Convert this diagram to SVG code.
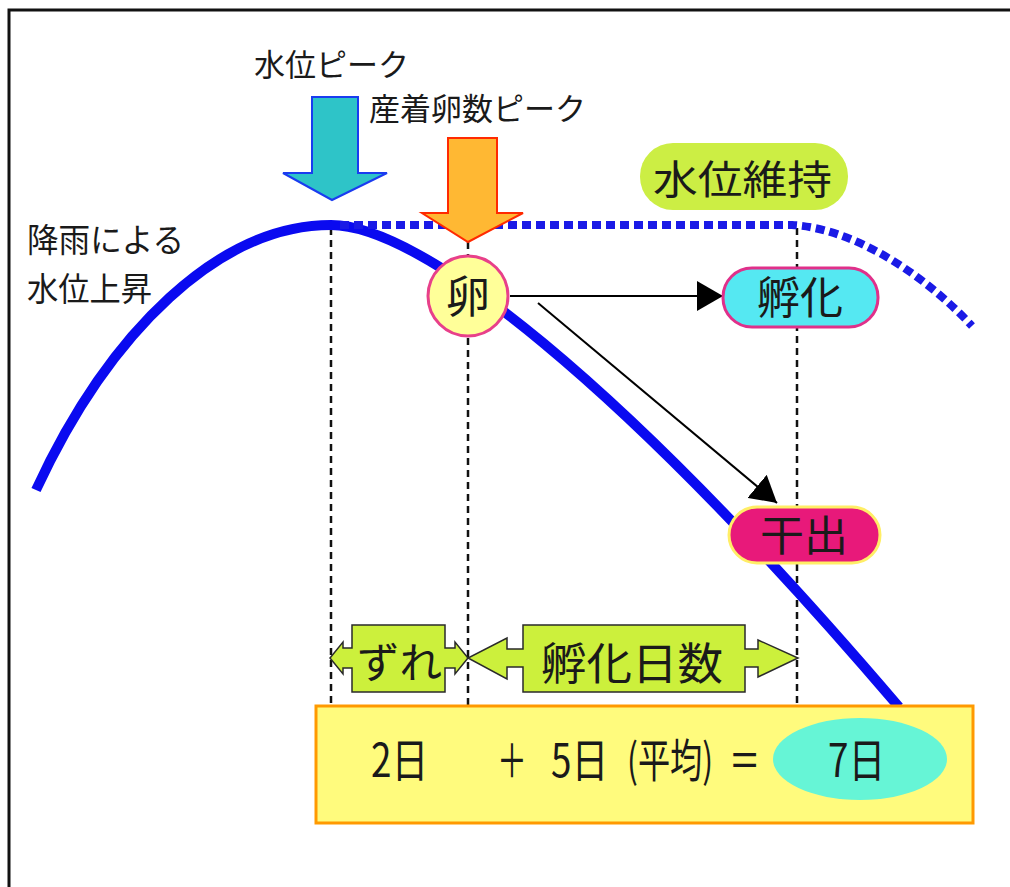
<svg xmlns="http://www.w3.org/2000/svg" width="1010" height="887" viewBox="0 0 1010 887">
<defs>
<style>
text{font-family:"Noto Sans CJK JP","Noto Sans",sans-serif;fill:#1a1a1a}
.vd{stroke:#111;stroke-width:2.5;stroke-dasharray:7 5;fill:none}
.conn{stroke:#000;stroke-width:2;fill:none}
.dbl{fill:#ccf03c;stroke:#2a2a2a;stroke-width:1.5}
.sum{font-size:46px}
</style>
<marker id="ah" viewBox="0 0 26 30" refX="26" refY="15" markerWidth="26" markerHeight="30" markerUnits="userSpaceOnUse" orient="auto">
<path d="M0,0 L26,15 L0,30 Z" fill="#000"/>
</marker>
</defs>
<rect width="1010" height="887" fill="#fff"/>
<path d="M9,887 L9,10 L1010,10" fill="none" stroke="#111" stroke-width="3"/>

<g id="guides">
<line class="vd" x1="331" y1="228" x2="331" y2="707"/>
<line class="vd" x1="468" y1="242" x2="468" y2="707"/>
<line class="vd" x1="797" y1="228" x2="797" y2="707"/>
</g>

<g id="water-curve">
<path d="M36,490 C110,330 220,225 331,225 C420,225 620,380 899,707" fill="none" stroke="#0a0af0" stroke-width="10"/>
<path d="M340,225 L792,225 C850,228 920,270 972,326" fill="none" stroke="#1a1ae6" stroke-width="8" stroke-dasharray="9 5"/>
</g>

<g id="label-rain">
<text x="27" y="252" font-size="33" textLength="157" lengthAdjust="spacingAndGlyphs">降雨による</text>
<text x="27" y="301" font-size="33" textLength="125" lengthAdjust="spacingAndGlyphs">水位上昇</text>
</g>

<g id="water-peak">
<text x="254" y="76" font-size="31">水位ピーク</text>
<path d="M312,97 L358,97 L358,173 L387,173 L332,200 L283,173 L312,173 Z" fill="#2ec4c8" stroke="#1a3cf0" stroke-width="2"/>
</g>

<g id="egg-peak">
<text x="369" y="120" font-size="31">産着卵数ピーク</text>
<path d="M448,138 L497,138 L497,213 L523,213 L468,242 L422,213 L448,213 Z" fill="#ffb833" stroke="#ff2a00" stroke-width="2"/>
</g>

<g id="maintain">
<rect x="640" y="143" width="208" height="67" rx="33" fill="#ccee44"/>
<text x="653" y="194" font-size="40" textLength="179" lengthAdjust="spacingAndGlyphs">水位維持</text>
</g>

<g id="connectors">
<line class="conn" x1="510" y1="296" x2="723" y2="296" marker-end="url(#ah)"/>
<line class="conn" x1="538" y1="303" x2="777" y2="503" marker-end="url(#ah)"/>
</g>

<g id="egg">
<circle cx="468" cy="296" r="40" fill="#ffff99" stroke="#e8408a" stroke-width="3"/>
<text x="468" y="313" font-size="44" text-anchor="middle">卵</text>
</g>

<g id="hatch">
<rect x="723" y="268" width="155" height="59" rx="29" fill="#55e8f2" stroke="#e0308a" stroke-width="3"/>
<text x="800" y="314" font-size="44" text-anchor="middle" textLength="86" lengthAdjust="spacingAndGlyphs">孵化</text>
</g>

<g id="dry">
<rect x="729" y="507" width="151" height="56" rx="28" fill="#e8197a" stroke="#ffee66" stroke-width="3"/>
<text x="804" y="551" font-size="42" text-anchor="middle" textLength="88" lengthAdjust="spacingAndGlyphs">干出</text>
</g>

<g id="lag">
<path class="dbl" d="M352,625 L445,625 L445,648 L455,648 L455,642 L468,658 L455,674 L455,668 L445,668 L445,692 L352,692 L352,668 L343,668 L343,674 L330,658 L343,642 L343,648 L352,648 Z"/>
<text x="357" y="678" font-size="42" textLength="85" lengthAdjust="spacingAndGlyphs">ずれ</text>
</g>

<g id="hatch-days">
<path class="dbl" d="M523,625 L745,625 L745,649 L758,649 L758,640 L798,658 L758,677 L758,667 L745,667 L745,692 L523,692 L523,667 L507,667 L507,679 L468,658 L507,638 L507,649 L523,649 Z"/>
<text x="541" y="680" font-size="44" textLength="182" lengthAdjust="spacingAndGlyphs">孵化日数</text>
</g>

<g id="sum">
<rect x="316" y="706" width="657" height="117" fill="#fffb7d" stroke="#ff9900" stroke-width="3"/>
<ellipse cx="860" cy="759" rx="87" ry="41" fill="#66f5d6"/>
<text class="sum" transform="translate(371,777) scale(0.8,1)">2日</text>
<text class="sum" transform="translate(497,777) scale(0.65,1)">＋</text>
<text class="sum" transform="translate(551,777) scale(0.8,1)">5日</text>
<text class="sum" transform="translate(627,777) scale(0.7,1)">(平均)</text>
<text class="sum" transform="translate(729,777) scale(0.68,1)">＝</text>
<text class="sum" transform="translate(828,777) scale(0.8,1)">7日</text>
</g>
</svg>
